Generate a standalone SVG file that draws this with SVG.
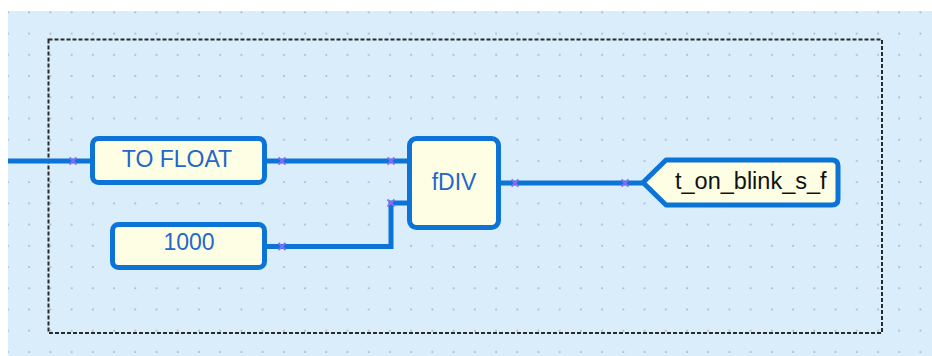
<svg xmlns="http://www.w3.org/2000/svg" xmlns:xlink="http://www.w3.org/1999/xlink" width="932" height="356" viewBox="0 0 932 356">
<style>
.box{fill:#fefee4;stroke:#0b74d6;stroke-width:5;}
.wire{fill:none;stroke:#0b74d6;stroke-width:5;stroke-linejoin:miter;}
.lbl{font-family:"Liberation Sans",Arial,sans-serif;font-size:23px;fill:#2366cc;text-anchor:middle;}
.tag{font-family:"Liberation Sans",Arial,sans-serif;font-size:23.5px;fill:#111;}
.xm{fill:none;stroke:#8a6cf2;stroke-width:1.8;}
</style>
<defs>
<pattern id="grid" patternUnits="userSpaceOnUse" x="-2.7" y="1.7" width="21.22" height="21.22">
<rect x="10" y="10" width="1.4" height="1.4" fill="#8e9caa"/>
</pattern>
<g id="xmark"><path class="xm" d="M-3.5,-3.5 L3.5,3.5 M-3.5,3.5 L3.5,-3.5"/></g>
</defs>
<rect x="0" y="0" width="932" height="356" fill="#ffffff"/>
<rect x="8" y="11" width="924" height="345" fill="#d9edfa"/>
<rect x="8" y="11" width="924" height="345" fill="url(#grid)"/>
<rect x="48.5" y="39.5" width="833.5" height="293.5" fill="none" stroke="#2a2a2a" stroke-width="2" stroke-dasharray="4,2"/>
<g id="connectors">
<path class="wire" d="M8,161 H92"/>
<path class="wire" d="M264,161 H409"/>
<path class="wire" d="M264,246.5 H391 V203 H409"/>
<path class="wire" d="M498,183 H643"/>
<use xlink:href="#xmark" x="73" y="161"/>
<use xlink:href="#xmark" x="282" y="161"/>
<use xlink:href="#xmark" x="391" y="161"/>
<use xlink:href="#xmark" x="282" y="246.5"/>
<use xlink:href="#xmark" x="391" y="203"/>
<use xlink:href="#xmark" x="515" y="183"/>
<use xlink:href="#xmark" x="625" y="183"/>
</g>
<g id="node-tofloat">
<rect class="box" x="92.5" y="138.5" width="172" height="44" rx="6"/>
<text class="lbl" x="177" y="167">TO FLOAT</text>
</g>
<g id="node-1000">
<rect class="box" x="112.5" y="224.5" width="152" height="43" rx="6"/>
<text class="lbl" x="189" y="250">1000</text>
</g>
<g id="node-fdiv">
<rect class="box" x="409.5" y="138.5" width="89" height="89" rx="7"/>
<text class="lbl" x="454" y="190">fDIV</text>
</g>
<g id="node-output">
<path class="box" stroke-linejoin="round" d="M643,182.5 L666,160 H832 Q838,160 838,166 V199 Q838,205 832,205 H666 Z"/>
<text class="tag" x="675" y="189">t_on_blink_s_f</text>
</g>
</svg>
